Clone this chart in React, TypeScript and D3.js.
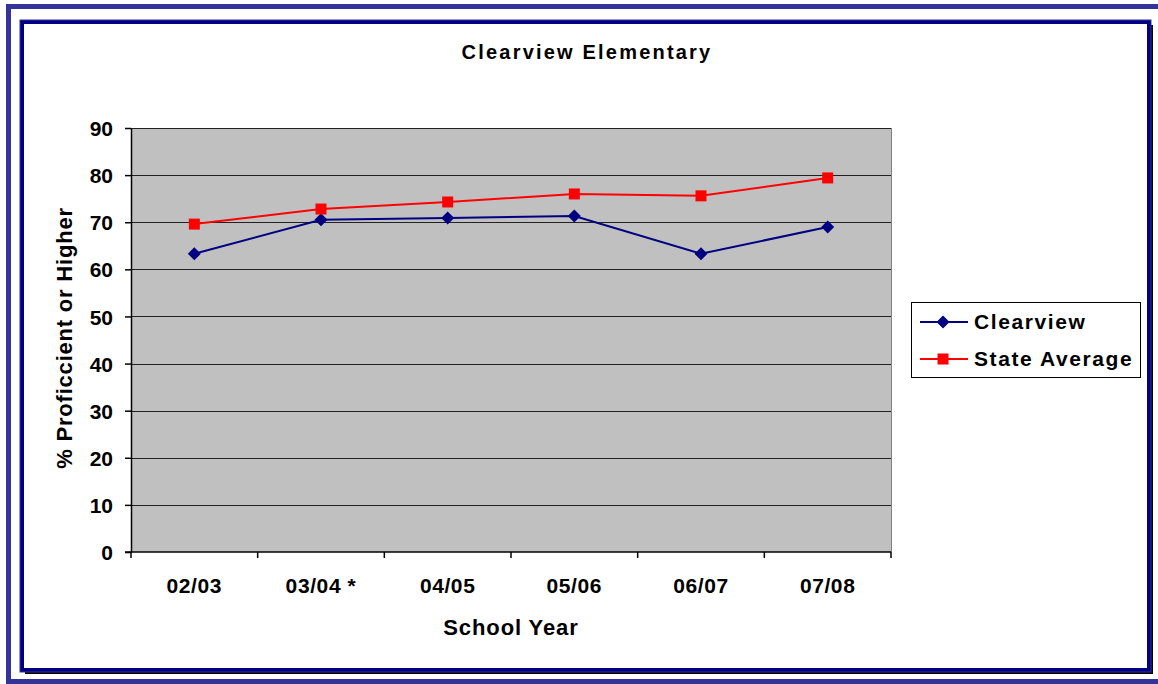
import React, { useEffect, useRef } from 'react';
import * as d3 from 'd3';

const years = ['02/03', '03/04 *', '04/05', '05/06', '06/07', '07/08'];
const clearview = [63.3, 70.5, 70.9, 71.3, 63.3, 69.0];
const stateAverage = [69.6, 72.8, 74.3, 76.0, 75.6, 79.4];
const yTicks = [0, 10, 20, 30, 40, 50, 60, 70, 80, 90];

const FONT = '"Liberation Sans", Arial, sans-serif';

const App: React.FC = () => {
  const svgRef = useRef<SVGSVGElement | null>(null);

  useEffect(() => {
    const svg = d3.select(svgRef.current);
    svg.selectAll('*').remove();
    const width = 1158;
    const height = 684;
    const margin = { top: 128, right: 267, bottom: 132, left: 131 };

    svg.attr('width', width).attr('height', height);

    // Outer frame
    svg.append('rect').attr('width', width).attr('height', height).attr('fill', '#fff');
    svg.append('rect')
      .attr('x', 8.5).attr('y', 6.5).attr('width', 1160).attr('height', 675)
      .attr('fill', 'none').attr('stroke', '#333399').attr('stroke-width', 5);
    svg.append('line')
      .attr('x1', 6).attr('x2', width).attr('y1', 682.5).attr('y2', 682.5)
      .attr('stroke', '#333399').attr('stroke-width', 1.5);

    // Inner frame with shadow
    svg.append('rect')
      .attr('x', 25).attr('y', 25).attr('width', 1128).attr('height', 649)
      .attr('fill', '#000');
    svg.append('rect')
      .attr('x', 22).attr('y', 22).attr('width', 1127).attr('height', 648)
      .attr('fill', '#fff').attr('stroke', '#000080').attr('stroke-width', 4);
    svg.append('rect')
      .attr('x', 20).attr('y', 20).attr('width', 1131).attr('height', 652)
      .attr('fill', 'none').attr('stroke', '#333399').attr('stroke-width', 1);

    const x = d3.scaleBand()
      .domain(years)
      .range([margin.left, width - margin.right]);

    const y = d3.scaleLinear()
      .domain([0, 90])
      .range([height - margin.bottom, margin.top]);

    // Plot area
    svg.append('rect')
      .attr('x', margin.left).attr('y', margin.top)
      .attr('width', width - margin.right - margin.left)
      .attr('height', height - margin.bottom - margin.top)
      .attr('fill', '#c0c0c0');

    // Gridlines
    svg.append('g')
      .selectAll('line')
      .data(yTicks.filter(d => d > 0))
      .enter()
      .append('line')
      .attr('x1', margin.left).attr('x2', width - margin.right)
      .attr('y1', d => Math.round(y(d)) + 0.5).attr('y2', d => Math.round(y(d)) + 0.5)
      .attr('stroke', '#222').attr('stroke-width', 1.2);

    // Plot border right
    svg.append('line')
      .attr('x1', width - margin.right + 0.5).attr('x2', width - margin.right + 0.5)
      .attr('y1', margin.top).attr('y2', height - margin.bottom)
      .attr('stroke', '#808080').attr('stroke-width', 1);

    // Y axis
    const yAxis = svg.append('g')
      .attr('transform', `translate(${margin.left},0)`)
      .call(d3.axisLeft(y).tickValues(yTicks).tickSize(6).tickSizeOuter(0).tickPadding(12));
    yAxis.selectAll('text')
      .attr('font-family', FONT).attr('font-size', 21).attr('font-weight', 'bold').attr('fill', '#000')
      .attr('dy', '0.36em');
    yAxis.selectAll('line, path').attr('stroke', '#000').attr('stroke-width', 1.5);

    // X axis
    const xAxisY = height - margin.bottom;
    const xg = svg.append('g');
    xg.append('line')
      .attr('x1', margin.left - 6).attr('x2', width - margin.right)
      .attr('y1', xAxisY).attr('y2', xAxisY)
      .attr('stroke', '#000').attr('stroke-width', 1.5);
    const bounds = years.map(d => x(d) as number).concat([width - margin.right]);
    xg.selectAll('.tick')
      .data(bounds)
      .enter()
      .append('line')
      .attr('x1', d => d).attr('x2', d => d)
      .attr('y1', xAxisY).attr('y2', xAxisY + 6)
      .attr('stroke', '#000').attr('stroke-width', 1.5);
    xg.selectAll('text')
      .data(years)
      .enter()
      .append('text')
      .attr('x', d => (x(d) as number) + x.bandwidth() / 2)
      .attr('y', 593)
      .attr('text-anchor', 'middle')
      .attr('font-family', FONT).attr('font-size', 21).attr('font-weight', 'bold')
      .attr('letter-spacing', 0.6)
      .text(d => d);

    // Lines
    const line = d3.line<number>()
      .x((d, i) => (x(years[i]) as number) + x.bandwidth() / 2)
      .y(d => y(d));

    svg.append('path')
      .datum(clearview)
      .attr('fill', 'none').attr('stroke', '#000080').attr('stroke-width', 2)
      .attr('d', line);
    svg.append('path')
      .datum(stateAverage)
      .attr('fill', 'none').attr('stroke', '#ff0000').attr('stroke-width', 2)
      .attr('d', line);

    // Markers
    svg.append('g')
      .selectAll('path')
      .data(clearview)
      .enter()
      .append('path')
      .attr('transform', (d, i) => `translate(${(x(years[i]) as number) + x.bandwidth() / 2},${y(d)})`)
      .attr('d', 'M0,-6.5L6.5,0L0,6.5L-6.5,0Z')
      .attr('fill', '#000080');
    svg.append('g')
      .selectAll('rect')
      .data(stateAverage)
      .enter()
      .append('rect')
      .attr('x', (d, i) => (x(years[i]) as number) + x.bandwidth() / 2 - 5.5)
      .attr('y', d => y(d) - 5.5)
      .attr('width', 11).attr('height', 11)
      .attr('fill', '#ff0000');

    // Title
    svg.append('text')
      .attr('x', 587).attr('y', 59)
      .attr('text-anchor', 'middle')
      .attr('font-family', FONT).attr('font-size', 20).attr('font-weight', 'bold')
      .attr('letter-spacing', 2.2)
      .text('Clearview Elementary');

    // X axis label
    svg.append('text')
      .attr('x', 511).attr('y', 635)
      .attr('text-anchor', 'middle')
      .attr('font-family', FONT).attr('font-size', 22).attr('font-weight', 'bold')
      .attr('letter-spacing', 0.9)
      .text('School Year');

    // Y axis label
    svg.append('text')
      .attr('transform', `translate(72,338) rotate(-90)`)
      .attr('text-anchor', 'middle')
      .attr('font-family', FONT).attr('font-size', 22).attr('font-weight', 'bold')
      .attr('letter-spacing', 0.8)
      .text('% Proficcient or Higher');

    // Legend
    const lg = svg.append('g');
    lg.append('rect')
      .attr('x', 911.5).attr('y', 302.5).attr('width', 229).attr('height', 75)
      .attr('fill', '#fff').attr('stroke', '#000').attr('stroke-width', 1);
    const legendItems = [
      { name: 'Clearview', color: '#000080', shape: 'diamond' },
      { name: 'State Average', color: '#ff0000', shape: 'square' },
    ];
    legendItems.forEach((item, i) => {
      const cy = 322 + i * 37;
      lg.append('line')
        .attr('x1', 920).attr('x2', 968).attr('y1', cy).attr('y2', cy)
        .attr('stroke', item.color).attr('stroke-width', 2);
      if (item.shape === 'diamond') {
        lg.append('path')
          .attr('transform', `translate(943,${cy})`)
          .attr('d', 'M0,-6.5L6.5,0L0,6.5L-6.5,0Z')
          .attr('fill', item.color);
      } else {
        lg.append('rect')
          .attr('x', 937.5).attr('y', cy - 5.5).attr('width', 11).attr('height', 11)
          .attr('fill', item.color);
      }
      lg.append('text')
        .attr('x', 974).attr('y', cy + 7)
        .attr('font-family', FONT).attr('font-size', 21).attr('font-weight', 'bold')
        .attr('letter-spacing', 1.6)
        .text(item.name);
    });
  }, []);

  return (
    <div style={{ position: 'absolute', left: 0, top: 0 }}>
      <svg ref={svgRef}></svg>
    </div>
  );
};

export default App;
